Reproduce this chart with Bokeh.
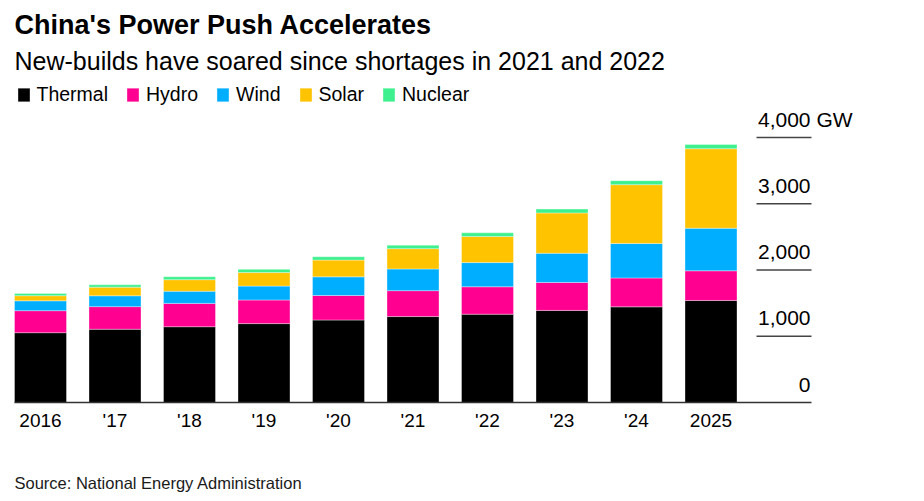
from bokeh.plotting import figure
from bokeh.models import Range1d, Label, Legend, LegendItem, ColumnDataSource
from bokeh.embed import file_html
from bokeh.resources import INLINE
from bokeh.core.properties import value

# ---- data (GW) ----
years = ["2016", "'17", "'18", "'19", "'20", "'21", "'22", "'23", "'24", "2025"]
thermal = [1054, 1106, 1144, 1191, 1245, 1297, 1333, 1390, 1444, 1540]
hydro = [332, 341, 352, 356, 370, 391, 414, 422, 436, 448]
wind = [149, 164, 184, 210, 282, 328, 365, 441, 521, 643]
solar = [77, 130, 174, 204, 253, 306, 393, 609, 887, 1200]
nuclear = [34, 36, 45, 49, 50, 53, 56, 57, 61, 65]
series_names = ["Thermal", "Hydro", "Wind", "Solar", "Nuclear"]
series_colors = ["#000000", "#FF0090", "#00AEFF", "#FFC300", "#3FF08F"]
y_ticks = [0, 1000, 2000, 3000, 4000]
y_tick_labels = ["0", "1,000", "2,000", "3,000", "4,000"]
unit_label = "GW"
title_text = "China's Power Push Accelerates"
subtitle_text = "New-builds have soared since shortages in 2021 and 2022"
source_text = "Source: National Energy Administration"

# ---- layout constants (pixels inside the figure) ----
W, H = 912, 495
bar_pitch = 74.5          # px between bar centres
first_bar_px = 40.0       # px of first bar centre
bar_width_px = 52.0
baseline_px = 402.0       # px from top of the zero line
px_per_gw = 265.0 / 4000.0
axis_left_px, axis_right_px = 14.0, 811.0
rule_left_px = 756.0

def xd(px):
    return (px - first_bar_px) / bar_pitch

x_start, x_end = xd(0), xd(W)
y_start = -(H - baseline_px) / px_per_gw
y_end = baseline_px / px_per_gw

FONT = "Liberation Sans"

p = figure(width=W, height=H, output_backend="svg", toolbar_location=None,
           title=None, x_range=Range1d(x_start, x_end), y_range=Range1d(y_start, y_end),
           x_axis_location=None, y_axis_location=None,
           min_border_left=0, min_border_right=0, min_border_top=0, min_border_bottom=0)
p.outline_line_color = None
p.xgrid.visible = False
p.ygrid.visible = False
p.background_fill_color = "white"
p.border_fill_color = "white"

src = ColumnDataSource(dict(x=list(range(len(years))), Thermal=thermal, Hydro=hydro,
                            Wind=wind, Solar=solar, Nuclear=nuclear))
renderers = p.vbar_stack(series_names, x="x", width=bar_width_px / bar_pitch,
                         color=series_colors, source=src,
                         line_color="white", line_width=0.5, line_alpha=0.7)

# baseline (zero line) across the chart
p.segment(x0=[xd(axis_left_px)], x1=[xd(axis_right_px)], y0=[y_ticks[0]], y1=[y_ticks[0]],
          line_color="#333333", line_width=1.5)

# x tick labels
xl_src = ColumnDataSource(dict(x=list(range(len(years))), y=[0] * len(years), t=years))
p.text(x="x", y="y", text="t", source=xl_src, text_align="center",
       text_baseline="alphabetic", y_offset=18,
       text_font=value(FONT), text_font_size="19px", text_color="#000000")

# right-side value scale: short rules + labels
gy = [t for t in y_ticks if t > 0]
p.segment(x0=[xd(rule_left_px)] * len(gy), x1=[xd(axis_right_px)] * len(gy), y0=gy, y1=gy,
          line_color="#444444", line_width=1.4)
lab_src = ColumnDataSource(dict(x=[xd(axis_right_px)] * len(y_ticks), y=y_ticks, t=y_tick_labels))
p.text(x="x", y="y", text="t", source=lab_src, text_align="right",
       text_baseline="alphabetic", x_offset=-1, y_offset=-18,
       text_font=value(FONT), text_font_size="21px", text_color="#000000")
p.text(x=[xd(axis_right_px)], y=[y_ticks[-1]], text=[unit_label], text_align="left",
       text_baseline="alphabetic", x_offset=5, y_offset=-18,
       text_font=value(FONT), text_font_size="21px", text_color="#000000")

# legend
legend = Legend(items=[LegendItem(label=n, renderers=[r]) for n, r in zip(series_names, renderers)],
                orientation="horizontal", location=(15.5, H - 106),
                glyph_width=15, glyph_height=17, label_standoff=6, spacing=17,
                padding=0, margin=0, border_line_color=None, background_fill_alpha=0,
                label_text_font=FONT, label_text_font_size="19.5px", label_text_color="#000000")
p.add_layout(legend, "center")

# titles and source
p.add_layout(Label(x=14, y=H - 24, x_units="screen", y_units="screen",
                   text=title_text, text_font=FONT, text_font_style="bold",
                   text_font_size="27px", text_color="#000000", text_baseline="alphabetic"))
p.add_layout(Label(x=14, y=H - 60, x_units="screen", y_units="screen",
                   text=subtitle_text, text_font=FONT,
                   text_font_size="25px", text_color="#000000", text_baseline="alphabetic"))
p.add_layout(Label(x=14, y=H - 482, x_units="screen", y_units="screen",
                   text=source_text, text_font=FONT,
                   text_font_size="16.5px", text_color="#1a1a1a", text_baseline="alphabetic"))

open("out.html", "w").write(file_html(p, INLINE))
